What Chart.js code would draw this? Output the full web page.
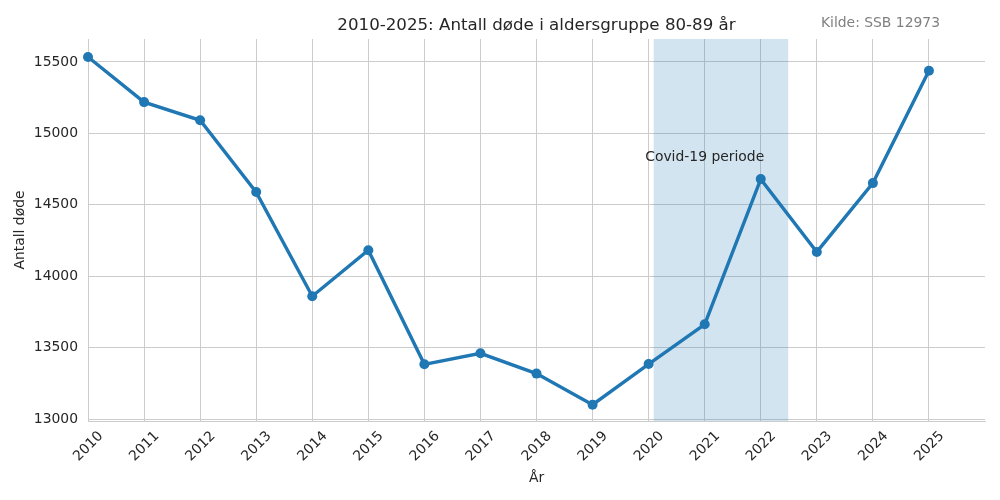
<!DOCTYPE html>
<html>
<head>
<meta charset="utf-8">
<script src="https://cdn.jsdelivr.net/npm/chart.js@4"></script>
<style>
html,body{margin:0;padding:0;background:#fff;}
#wrap{width:1000px;height:500px;}
</style>
</head>
<body>
<div id="wrap"><canvas id="c" width="1000" height="500"></canvas></div>
<script>
const years = [2010,2011,2012,2013,2014,2015,2016,2017,2018,2019,2020,2021,2022,2023,2024,2025];
const deaths = [15535,15219,15092,14589,13860,14182,13383,13460,13318,13100,13385,13663,14680,14170,14652,15439];
const yTicks = [13000,13500,14000,14500,15000,15500];
const xTicks = years;
const covidStart = 2020.09;
const covidEnd = 2022.49;
const covidLabel = 'Covid-19 periode';
const covidLabelX = 2021;
const covidLabelY = 14830;
const titleText = '2010-2025: Antall døde i aldersgruppe 80-89 år';
const sourceText = 'Kilde: SSB 12973';

const FONT = "'DejaVu Sans', sans-serif";
const TXT = '#262626';
const FS = 13.9;

const overlay = {
  id: 'overlay',
  beforeDatasetsDraw(chart) {
    const {ctx, chartArea, scales:{x,y}} = chart;
    ctx.save();
    ctx.fillStyle = 'rgba(31,119,180,0.2)';
    const x0 = x.getPixelForValue(covidStart), x1 = x.getPixelForValue(covidEnd);
    ctx.fillRect(x0, chartArea.top, x1 - x0, chartArea.bottom - chartArea.top);
    ctx.restore();
  },
  afterDatasetsDraw(chart) {
    const {ctx, scales:{x,y}} = chart;
    ctx.save();
    ctx.font = FS + "px " + FONT;
    ctx.fillStyle = TXT;
    ctx.textAlign = 'center';
    ctx.textBaseline = 'middle';
    ctx.fillText(covidLabel, x.getPixelForValue(covidLabelX), y.getPixelForValue(covidLabelY));
    ctx.restore();
  },
  afterDraw(chart) {
    const {ctx} = chart;
    ctx.save();
    ctx.font = FS + "px " + FONT;
    ctx.fillStyle = '#808080';
    ctx.textAlign = 'right';
    ctx.textBaseline = 'middle';
    ctx.fillText(sourceText, 940, 23);
    ctx.restore();
  }
};

new Chart(document.getElementById('c'), {
  type: 'line',
  data: {
    datasets: [{
      data: years.map((yr, i) => ({x: yr, y: deaths[i]})),
      borderColor: '#1f77b4',
      backgroundColor: '#1f77b4',
      borderWidth: 3.4,
      pointRadius: 5,
      pointBorderWidth: 0,
      pointBackgroundColor: '#1f77b4',
      tension: 0,
      clip: false
    }]
  },
  options: {
    responsive: false,
    animation: false,
    devicePixelRatio: 1,
    layout: {padding: {left: 0, right: 15, top: 0, bottom: 0}},
    plugins: {
      legend: {display: false},
      tooltip: {enabled: false},
      title: {
        display: true,
        text: titleText,
        fullSize: false,
        color: TXT,
        font: {family: FONT, size: 16.67, weight: 'normal', lineHeight: 1.2},
        padding: {top: 16, bottom: 3}
      }
    },
    scales: {
      x: {
        type: 'linear',
        min: 2010,
        max: 2026,
        afterBuildTicks(scale) { scale.ticks = xTicks.map(v => ({value: v})); },
        afterFit(scale) { scale.height = 79; },
        ticks: {
          color: TXT,
          font: {family: FONT, size: FS},
          maxRotation: 45,
          minRotation: 45,
          padding: 7,
          labelOffset: 13,
          autoSkip: false,
          callback: v => String(v)
        },
        grid: {color: '#cccccc', lineWidth: 1, drawTicks: false},
        border: {display: true, color: '#cccccc', width: 1},
        title: {
          display: true,
          text: 'År',
          color: TXT,
          font: {family: FONT, size: FS},
          padding: {top: 0, bottom: 13}
        }
      },
      y: {
        type: 'linear',
        min: 12986,
        max: 15661,
        afterBuildTicks(scale) { scale.ticks = yTicks.map(v => ({value: v})); },
        afterFit(scale) { scale.width = 88; },
        ticks: {
          color: TXT,
          font: {family: FONT, size: FS},
          padding: 10,
          callback: v => String(v)
        },
        grid: {color: '#cccccc', lineWidth: 1, drawTicks: false},
        border: {display: false},
        title: {
          display: true,
          text: 'Antall døde',
          color: TXT,
          font: {family: FONT, size: FS},
          padding: {top: 12, bottom: 0}
        }
      }
    }
  },
  plugins: [overlay]
});
</script>
</body>
</html>
